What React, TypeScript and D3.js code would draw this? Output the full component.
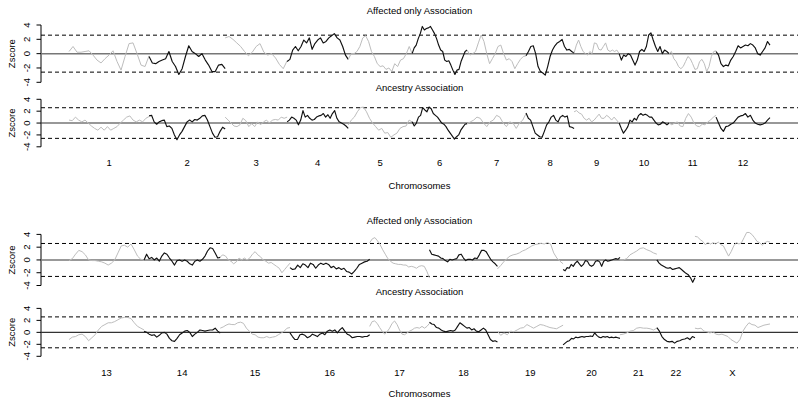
import React from "react";
import * as d3 from "d3";

// ---------- data ----------
const topChromosomes = ["1", "2", "3", "4", "5", "6", "7", "8", "9", "10", "11", "12"];
const topLengths = [288, 274, 223, 220, 230, 198, 212, 173, 162, 180, 169, 194];
const bottomChromosomes = ["13", "14", "15", "16", "17", "18", "19", "20", "21", "22", "X"];
const bottomLengths = [128, 130, 119, 136, 102, 116, 112, 97, 63, 65, 128];
const yTicks = [-4, -2, 0, 2, 4];
const threshold = 2.58;

// Affected only association, chromosomes 1-12 (evenly spaced along each chromosome)
const affectedTop: number[][] = [
  [0.3, 1.0, 0.2, 0.2, 0.3, 0.4, -0.2, -0.9, -1.3, -0.7, -0.2, 0.4, -1.1, -2.3, -0.4, 1.4, 1.5, 0, -1.6, -1.8, -0.3],
  [-0.4, -1.3, -1.4, -1.1, -0.9, -0.7, 0.3, -1.1, -1.8, -2.9, -2.1, -0.4, 1.1, 0.3, 0, -0.4, 0, -0.9, -1.6, -2.5, -2.5, -1.6, -1.5, -2.1],
  [2.2, 2.4, 2.0, 1.5, 1.0, 0.3, -0.3, 0.2, 1.0, 1.4, 0.2, -0.2, 0, -0.6, -1.5, -2.1, -1.0],
  [-1.1, -0.8, 0.5, 1.0, 0.4, 1.0, 1.9, 1.5, 2.2, 0.6, 1.4, 1.9, 2.2, 1.5, 1.7, 2.2, 2.5, 2.8, 2.2, 1.9, 1.0, -0.2, -0.8],
  [-0.8, 0, 0, 0.3, 1.0, 2.2, 2.5, 1.7, 0.3, -0.4, -1.4, -1.8, -1.7, -2.2, -2.0, -2.5, -1.4, -1.8, -0.9, -0.7, 0, 1.0, 0],
  [0, 0.8, 1.2, 2.1, 2.8, 3.8, 3.3, 3.5, 3.6, 3.8, 3.3, 2.8, 2.1, 1.2, 0.5, 0.3, -0.9, -1.1, -1.0, -1.6, -2.3, -2.9, -2.3, -2.2, -1.1, -0.4, 0.3, 0.5],
  [0.5, -0.2, 0, 0.3, 1.5, 2.6, 1.7, 0, -1.4, -0.7, 0, 1.0, 1.2, 0, -0.9, -0.7, -1.1, -2.1, -1.4, -0.8, -0.4, -0.3],
  [-0.3, 0.3, 1.0, 1.1, 0, -1.8, -2.5, -2.7, -3.0, -1.8, -0.4, 0.5, 1.1, 1.5, 1.7, 2.0, 1.0, 0.5, 0.6, 0.3, 0.1],
  [0.1, 1.2, 1.9, 1.0, 0.3, 0, -0.2, 0.3, 0, 1.5, 1.4, 0.6, 0.5, 1.0, 1.5, 0.5, 0.3, 0.5, 0.3, 0.5, 0],
  [0, -0.9, -0.2, -0.4, 0, -0.2, -0.9, -1.6, -0.9, 0.3, 0.6, 0.3, 1.0, 2.6, 2.9, 1.9, 1.0, 0.3, 1.0, 0, 0.5, 0.3, 0],
  [0, 0.3, -0.7, -1.1, -1.8, -2.1, -1.8, -1.1, -0.4, -0.7, -1.4, -2.2, -2.1, -1.1, -0.8, -1.4, -2.5, -1.8, -0.4, 0.3, 0.4],
  [0.3, -0.2, -1.4, -1.8, -1.6, -1.7, -0.9, -0.4, 0.3, 1.1, 0.8, 1.0, 1.2, 1.1, 1.4, 1.2, 0.8, 0, -0.2, 0.3, 0.8, 1.7, 1.2],
];

// Ancestry association, chromosomes 1-12
const ancestryTop: number[][] = [
  [0.5, 0.4, 1.0, 0.5, 0.2, 0.5, 0, -0.5, -0.9, -1.2, -0.7, -1.2, -0.6, -1.2, -0.9, -0.6, 0, 0.5, 1.0, 1.2, 0.5, 0.2, 0.5, 0.2, 0.8, 1.1],
  [1.2, 1.3, 0.2, -0.2, 0.2, 0.4, 0.5, -0.6, -0.5, -0.9, -2.0, -2.8, -2.0, -1.4, -0.6, 0.2, 0.5, 0.2, 0.6, 0.5, 0.8, 1.2, 1.3, 0.5, -0.6, -1.7, -2.4, -2.3, -1.4, -0.7, -1.0],
  [1.0, 0.5, 0, -0.5, -0.6, -0.3, 0.8, 0.4, -0.6, -0.1, -0.6, 0.2, -0.3, 0.2, 0.5, 0, 0.5, 0.6, 0.5, 1.0, 0.8, 1.0],
  [0.2, 0.5, 1.0, 0.8, 0.5, -0.3, 0.5, 2.1, 1.0, 1.3, 0.8, 0.5, 0.6, 1.0, 1.2, 1.3, 1.6, 1.0, 1.4, 0.8, 1.6, 2.1, 0.8, 0.2, 0, -0.2, -0.5, -0.9],
  [-0.3, 0.5, 1.0, 1.9, 2.6, 2.7, 1.9, 0.8, 0, -0.6, -1.2, -0.9, -1.7, -1.6, -2.4, -2.0, -1.7, -0.9, -0.6, -0.5, 0.5, 0.2],
  [0.2, -0.5, 0, 1.0, 1.3, 2.6, 2.2, 1.9, 2.7, 2.4, 1.6, 1.3, 1.0, 0.5, 0, -0.2, -0.6, -1.2, -1.7, -2.2, -2.7, -2.3, -2.0, -1.2, -0.7, -0.2, -0.1],
  [-0.1, 0.2, 0.5, 1.0, 0.8, 0, -0.6, 0.2, 0.5, 1.3, 1.0, 0, -0.6, 0.2, 0, -0.9, 0, 0.5, 1.6],
  [1.7, 0.8, 0.5, -0.6, -1.7, -2.0, -2.3, -2.4, -1.4, -0.3, 0.2, 1.0, 1.3, 0.5, 0.2, 1.0, 1.3, 1.0, 1.2, -0.6, -0.7, -0.9],
  [1.9, 2.1, 1.7, 1.5, 0.8, 0.5, 0.8, 0.2, 0.5, 1.0, 1.5, 0.8, 0.8, 1.3, 1.0, 0.5, 1.0, 0.5, 0],
  [0, -0.9, -1.7, -1.2, -0.6, 0.5, 0.2, 0.8, 0.5, 1.3, 1.6, 1.3, 1.5, 1.3, 1.0, 1.0, 0.5, 0, -0.3, -0.2, 0.2, 0, -0.3, 0],
  [0, -0.3, 0, 0.2, -0.5, -0.6, 0.8, 1.6, 1.0, 0, -0.5, -0.6, -0.2, -0.3, 0.2, 0.5, 1.0, 1.3],
  [1.0, 0, -0.9, -1.4, -0.6, -0.5, -0.2, 0, 0.5, 1.0, 1.2, 1.3, 1.6, 1.0, 1.3, 0.5, 0, -0.2, -0.3, -0.2, 0, 0.5, 0.9],
];

// Affected only association, chromosomes 13-22, X
const affectedBottom: number[][] = [
  [-0.1, 0.2, 0.9, 1.5, 1.3, 0.8, 0, -0.1, -0.1, -0.2, -0.3, -0.5, -0.8, -0.5, 0, 1.1, 2.2, 2.3, 2.0, 2.5, 1.6, 0.6, 0.1, 0],
  [0, 0.9, 0.2, 0.4, 0, 0.3, -0.2, 0.6, 1.1, 0.9, 0.3, -0.2, -0.8, -0.1, 0, -0.2, 0, -0.2, -0.6, -0.8, -0.2, 0, -0.2, 0.1, 0.6, 1.4, 1.9, 1.8, 1.1, 0.3, 0.4],
  [0.5, 0.8, 0.6, 0, -0.2, -0.6, -0.3, 0.3, 0, 0.3, 0, 0.3, 0.9, 1.3, 0.8, 0.5, 0, -0.2, -0.5, -0.4, -0.7, -1.0, -1.3, -2.0, -1.5, -1.0, -0.5],
  [-1.2, -1.5, -1.4, -0.8, -1.2, -0.6, -0.8, -1.2, -0.5, -0.7, -1.3, -0.8, -0.5, -0.7, -0.5, -0.7, -1.2, -1.0, -1.4, -1.2, -1.5, -1.3, -1.8, -1.9, -2.2, -1.8, -1.3, -0.7, -0.5, -0.3, -0.2, 0.1],
  [2.7, 3.3, 3.5, 3.0, 2.4, 1.6, 0.9, 0.2, -0.2, -0.5, -0.6, -0.7, -0.7, -0.8, -0.8, -1.1, -1.0, -1.1, -1.3, -1.0, -0.9, -1.0, -1.8, -2.8],
  [1.6, 0.9, 0.8, 0.7, 0.6, 0.3, 0.2, -0.1, -0.3, 0.1, 0, 0.1, 0.2, 0.8, 0.9, 0.3, -0.1, 0.1, 0.1, 0, 0.3, 0.2, 0.8, 1.5, 1.5, 1.3, 0.7, 0.1, -0.3, -0.6, -1.0],
  [-1.4, -0.9, -0.3, 0.2, 0.6, 0.8, 0.9, 1.1, 1.4, 1.6, 1.9, 2.2, 2.4, 2.5, 2.6, 2.5, 2.7, 2.5, 1.1, 0.3, -0.2, -0.6],
  [-1.5, -1.7, -1.2, -1.3, -0.7, -1.0, -0.5, -0.2, -0.6, -1.0, -0.7, -0.1, -0.2, -0.8, -1.0, -0.8, -0.2, -0.1, -0.3, -1.0, -0.2, 0, -0.2, -0.1, 0, 0.1, 0.2, 0.1, 0.4],
  [0, 0, 0.2, 0.8, 1.1, 1.4, 1.8, 1.9, 1.6, 1.4, 1.1, 0.9],
  [0, -0.5, -0.8, -1.0, -1.2, -1.3, -1.2, -1.5, -1.4, -1.3, -1.2, -1.5, -1.8, -2.1, -2.3, -2.8, -3.5, -2.8],
  [3.7, 3.6, 3.2, 2.9, 2.4, 2.7, 2.5, 2.7, 2.5, 2.8, 2.4, 2.2, 1.4, 0.6, 1.3, 2.2, 2.7, 2.5, 2.7, 3.5, 4.3, 4.3, 4.0, 3.5, 2.9, 2.7, 2.3, 2.7, 2.9, 2.8],
];

// Ancestry association, chromosomes 13-22, X
const ancestryBottom: number[][] = [
  [-1.2, -0.8, -0.7, -0.4, -0.3, -0.7, -1.4, -0.9, -0.4, 0.4, 1.0, 1.3, 1.6, 1.6, 1.8, 2.1, 2.4, 2.5, 2.5, 2.3, 1.6, 1.0, 0.7, 0.4],
  [0.2, 0, -0.3, -0.5, -0.4, -0.8, -0.5, -0.1, 0, -0.3, -1.0, -1.4, -1.5, -1.0, -0.4, -0.1, 0.2, 0.3, 0, -0.7, -0.3, 0, 0.4, 0.3, 0.2, 0.3, 0.4, 0.4, 0.7, 0.2, -0.1],
  [0.7, 0.9, 1.2, 1.4, 1.3, 1.3, 1.6, 1.7, 1.5, 0.7, 0.2, -0.3, -0.4, -0.8, -0.9, -0.9, -0.7, -0.9, -0.8, -0.7, -0.4, -0.1, 0.2, 0.7, 0.8],
  [-0.1, -0.7, -1.2, -1.2, -0.4, -0.3, -0.5, -0.9, -0.7, -0.3, -0.5, -0.7, -0.3, -0.1, -0.4, 0.2, 0.4, 0.2, 0.4, -0.1, 0.4, 0.8, 0.2, -0.3, -0.5, -0.9, -0.8, -0.7, -0.7, -0.8, -0.7, -0.7, -0.4],
  [1.0, 1.8, 1.9, 1.5, 0.8, 0.2, -0.3, 0.1, 0.7, 1.5, 1.9, 1.3, 0.4, -0.3, -0.4, -0.1, 0.2, 0.4, 0.7, 0.8, 0.7, 1.0, 0.7, 1.0, 1.5],
  [1.7, 1.4, 1.3, 0.8, 0.7, 0.4, 0.2, 0.1, 0.2, 0.3, 0.2, 0.4, 1.0, 1.6, 1.3, 1.0, 0.7, 0.8, 0.4, 0.6, 0.2, 0.1, 0.4, 0.7, 0.4, -0.4, -1.2, -1.5, -1.4, -1.6],
  [0.2, -0.5, -0.1, -0.4, 0.2, 0.1, 0.4, 0.7, 0.8, 1.3, 1.0, 0.7, 1.0, 1.3, 1.2, 1.0, 0.8, 0.7, 0.6, 0.9, 1.2],
  [-2.1, -1.8, -1.5, -1.4, -1.0, -1.1, -0.8, -0.9, -0.8, -0.7, -0.8, -0.7, -0.7, -0.6, -0.7, -0.1, -0.5, -0.8, -0.9, -0.7, -0.8, -0.7, -0.9, -0.8, -0.9, -0.8, -0.9, -1.0],
  [-0.4, -0.3, -0.1, 0.2, 0.3, 0.7, 0.8, 0.7, 0.7, 0.6, 0.4, 0.7],
  [0.8, 0.2, -0.7, -1.2, -1.5, -1.6, -1.5, -1.8, -1.5, -1.4, -1.2, -1.1, -0.9, -1.2, -0.7, -0.9],
  [0.7, 0.6, 0.7, 0.2, 0.1, -0.1, 0.1, -0.3, -0.4, -0.3, -0.5, -0.7, -1.2, -1.5, -1.8, -1.2, 0.2, 1.0, 1.6, 1.3, 1.2, 0.8, 1.0, 1.2, 1.3, 1.4],
];

// ---------- layout ----------
const W = 800;
const H = 404;
const FONT = "'Liberation Sans', Arial, Helvetica, sans-serif";
const PLOT_LEFT = 41;
const PLOT_RIGHT = 798;

type PanelSpec = {
  title: string;
  titleY: number;
  yTop: number;
  yBottom: number;
  series: number[][];
  dark: boolean;
};

function Panel({
  spec,
  lengths,
  x,
}: {
  spec: PanelSpec;
  lengths: number[];
  x: d3.ScaleLinear<number, number>;
}) {
  const y = d3.scaleLinear().domain([-4, 4]).range([spec.yBottom, spec.yTop]);
  const starts = d3.cumsum([0, ...lengths.slice(0, -1)]);
  const line = d3
    .line<[number, number]>()
    .x((d) => x(d[0]))
    .y((d) => y(d[1]));
  const mid = (spec.yTop + spec.yBottom) / 2;
  return (
    <g>
      <text x={(PLOT_LEFT + PLOT_RIGHT) / 2} y={spec.titleY} textAnchor="middle" fontSize={9.5} fontFamily={FONT} fill="#000">
        {spec.title}
      </text>
      {/* axis */}
      <line x1={PLOT_LEFT} x2={PLOT_LEFT} y1={y(4)} y2={y(-4)} stroke="#000" strokeWidth={1} />
      {yTicks.map((t) => (
        <g key={t}>
          <line x1={PLOT_LEFT - 4.5} x2={PLOT_LEFT} y1={y(t)} y2={y(t)} stroke="#000" strokeWidth={1} />
          <text
            transform={`translate(29.5,${y(t)}) rotate(-90)`}
            textAnchor="middle"
            fontSize={9.5}
            fontFamily={FONT}
            fill="#000"
          >
            {t}
          </text>
        </g>
      ))}
      <text transform={`translate(15,${mid}) rotate(-90)`} textAnchor="middle" fontSize={9.5} fontFamily={FONT} fill="#000">
        Zscore
      </text>
      {/* reference lines */}
      <line x1={PLOT_LEFT} x2={PLOT_RIGHT} y1={y(0)} y2={y(0)} stroke={spec.dark ? "#333" : "#777"} strokeWidth={spec.dark ? 1.1 : 1.5} />
      {[threshold, -threshold].map((t) => (
        <line key={t} x1={PLOT_LEFT} x2={PLOT_RIGHT} y1={y(t)} y2={y(t)} stroke="#000" strokeWidth={1} strokeDasharray="4,3" />
      ))}
      {/* curves */}
      {spec.series.map((vals, i) => {
        const s = starts[i];
        const len = lengths[i];
        const pts: [number, number][] = vals.map((v, j) => [s + (j / (vals.length - 1)) * len, v]);
        const black = i % 2 === 1;
        return (
          <path
            key={i}
            d={line(pts) || ""}
            fill="none"
            stroke={black ? "#111" : "#bdbdbd"}
            strokeWidth={black ? 1.15 : 1}
            strokeLinejoin="round"
          />
        );
      })}
    </g>
  );
}

function Row({
  chromosomes,
  lengths,
  panels,
  labelY,
  xTitleY,
}: {
  chromosomes: string[];
  lengths: number[];
  panels: PanelSpec[];
  labelY: number;
  xTitleY: number;
}) {
  const total = d3.sum(lengths);
  const x = d3
    .scaleLinear()
    .domain([-0.04 * total, 1.04 * total])
    .range([PLOT_LEFT, PLOT_RIGHT]);
  const starts = d3.cumsum([0, ...lengths.slice(0, -1)]);
  return (
    <g>
      {panels.map((p, i) => (
        <Panel key={i} spec={p} lengths={lengths} x={x} />
      ))}
      {chromosomes.map((c, i) => (
        <text key={c} x={x(starts[i] + lengths[i] / 2)} y={labelY} textAnchor="middle" fontSize={9.5} fontFamily={FONT} fill="#000">
          {c}
        </text>
      ))}
      <text x={(PLOT_LEFT + PLOT_RIGHT) / 2} y={xTitleY} textAnchor="middle" fontSize={9.5} fontFamily={FONT} fill="#000">
        Chromosomes
      </text>
    </g>
  );
}

export default function App() {
  const topPanels: PanelSpec[] = [
    { title: "Affected only Association", titleY: 13.5, yTop: 25, yBottom: 82.3, series: affectedTop, dark: false },
    { title: "Ancestry Association", titleY: 90.5, yTop: 99.3, yBottom: 146.8, series: ancestryTop, dark: true },
  ];
  const bottomPanels: PanelSpec[] = [
    { title: "Affected only Association", titleY: 223.5, yTop: 234.4, yBottom: 285.5, series: affectedBottom, dark: false },
    { title: "Ancestry Association", titleY: 295, yTop: 308.4, yBottom: 356.3, series: ancestryBottom, dark: true },
  ];
  return (
    <svg
      width={W}
      height={H}
      viewBox={`0 0 ${W} ${H}`}
      style={{ position: "absolute", left: 0, top: 0, background: "#fff" }}
    >
      <rect width={W} height={H} fill="#fff" />
      <Row chromosomes={topChromosomes} lengths={topLengths} panels={topPanels} labelY={166} xTitleY={188.5} />
      <Row chromosomes={bottomChromosomes} lengths={bottomLengths} panels={bottomPanels} labelY={376} xTitleY={396.5} />
    </svg>
  );
}
